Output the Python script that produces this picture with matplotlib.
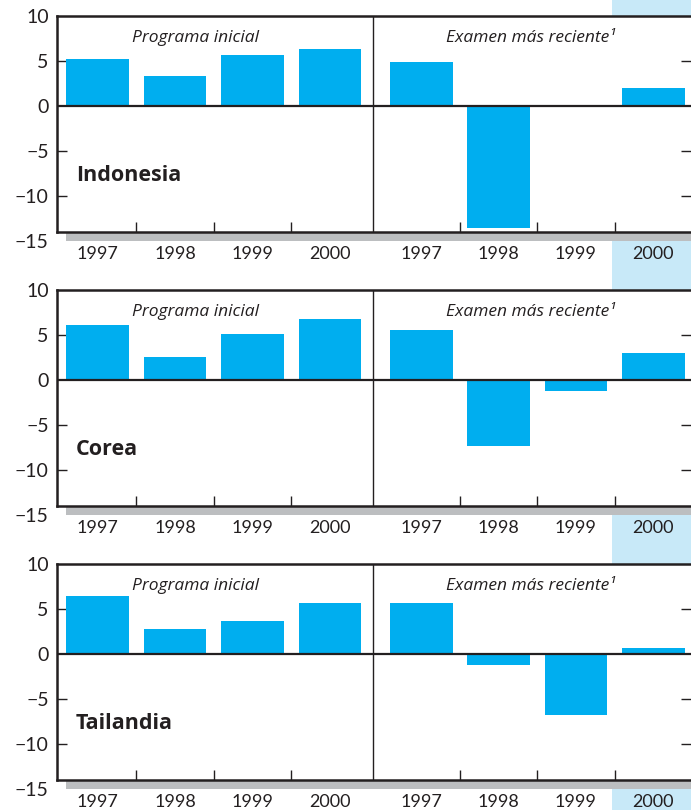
import matplotlib
matplotlib.use('Agg')
import matplotlib.pyplot as plt
from matplotlib.patches import Rectangle

plt.rcParams['font.family'] = ['Lato', 'DejaVu Sans']

# Crecimiento del PIB real (%), programa inicial vs. examen más reciente
years = ['1997', '1998', '1999', '2000']
countries = ['Indonesia', 'Corea', 'Tailandia']
programa_inicial = {
    'Indonesia': [5.2, 3.3, 5.7, 6.3],
    'Corea': [6.1, 2.6, 5.1, 6.8],
    'Tailandia': [6.4, 2.8, 3.7, 5.7],
}
examen_reciente = {
    'Indonesia': [4.9, -13.6, 0.0, 2.0],
    'Corea': [5.6, -7.3, -1.2, 3.0],
    'Tailandia': [5.7, -1.2, -6.8, 0.7],
}
yticks = [10, 5, 0, -5, -10, -15]

bar_color = '#00aeef'
band_color = '#c8e9f8'
gray = '#bcbec0'
ink = '#231f20'

W, H = 691, 810
fig = plt.figure(figsize=(W / 100, H / 100), dpi=100)

left_x = [0, 1, 2, 3]
right_x = [4.18, 5.18, 6.18, 7.18]
xmin, xmax = -0.526, 7.667
ymin, ymax = -15, 10
ybottom = -14.05
divider = 3.56
boundaries = [0.5, 1.5, 2.5, 4.68, 5.68, 6.68]
tops = [16, 290, 564]

label_font = ['Open Sans', 'DejaVu Sans']

axes = []
for name, top in zip(countries, tops):
    ax = fig.add_axes([57 / W, (H - top - 225) / H, 634 / W, 225 / H])
    axes.append(ax)
    ax.set_xlim(xmin, xmax)
    ax.set_ylim(ymin, ymax)

    ax.bar(left_x, programa_inicial[name], width=0.81, color=bar_color, zorder=2)
    ax.bar(right_x, examen_reciente[name], width=0.81, color=bar_color, zorder=2)

    ax.axhline(0, color=ink, lw=1.6, zorder=3)
    ax.vlines(divider, ybottom, ymax, color=ink, lw=1.0, zorder=3)

    for s in ['top', 'left', 'bottom']:
        ax.spines[s].set_color(ink)
        ax.spines[s].set_linewidth(1.8)
    ax.spines['right'].set_visible(False)
    ax.spines['bottom'].set_position(('data', ybottom))
    ax.spines['left'].set_bounds(ybottom, ymax)

    # franja gris bajo el eje
    ax.add_patch(Rectangle((-0.41, ybottom - 1.0), xmax + 0.5, 1.0,
                           color=gray, lw=0, clip_on=False, zorder=1))

    ax.set_yticks(yticks)
    ax.set_yticklabels([str(v).replace('-', '\u2212') for v in yticks])
    ax.tick_params(axis='y', direction='in', length=7, width=1.0, color=ink,
                   left=True, right=True, labelright=False, labelsize=14,
                   labelcolor=ink, pad=6)
    for t in ax.yaxis.get_major_ticks():
        if t.get_loc() in (10, 0, -15):
            t.tick1line.set_visible(False)
            t.tick2line.set_visible(False)

    ax.set_xticks(boundaries)
    ax.set_xticklabels([])
    ax.tick_params(axis='x', which='major', direction='in', length=7,
                   width=1.0, color=ink)
    ax.set_xticks(left_x + right_x, years + years, minor=True)
    ax.tick_params(axis='x', which='minor', length=0, labelsize=13,
                   labelcolor=ink, pad=9.5)

    ax.text(1.27, 7.6, 'Programa inicial', style='italic', fontsize=12.5,
            family=label_font, color=ink, ha='center', va='center')
    ax.text(5.59, 7.6, 'Examen más reciente\u00b9', style='italic',
            fontsize=12.5, family=label_font, color=ink,
            ha='center', va='center')
    ax.text(-0.28, -7.67, name, fontweight='bold', fontsize=15.5,
            family=label_font, color=ink, ha='left', va='center')

# columna celeste para el año 2000 del examen más reciente
ax0 = axes[0]
x0 = fig.transFigure.inverted().transform(ax0.transData.transform((6.65, 0)))[0]
fig.add_artist(Rectangle((x0, 0), 1 - x0, 1, transform=fig.transFigure,
                         color=band_color, lw=0, zorder=-1))

fig.savefig('out.png', dpi=100)
